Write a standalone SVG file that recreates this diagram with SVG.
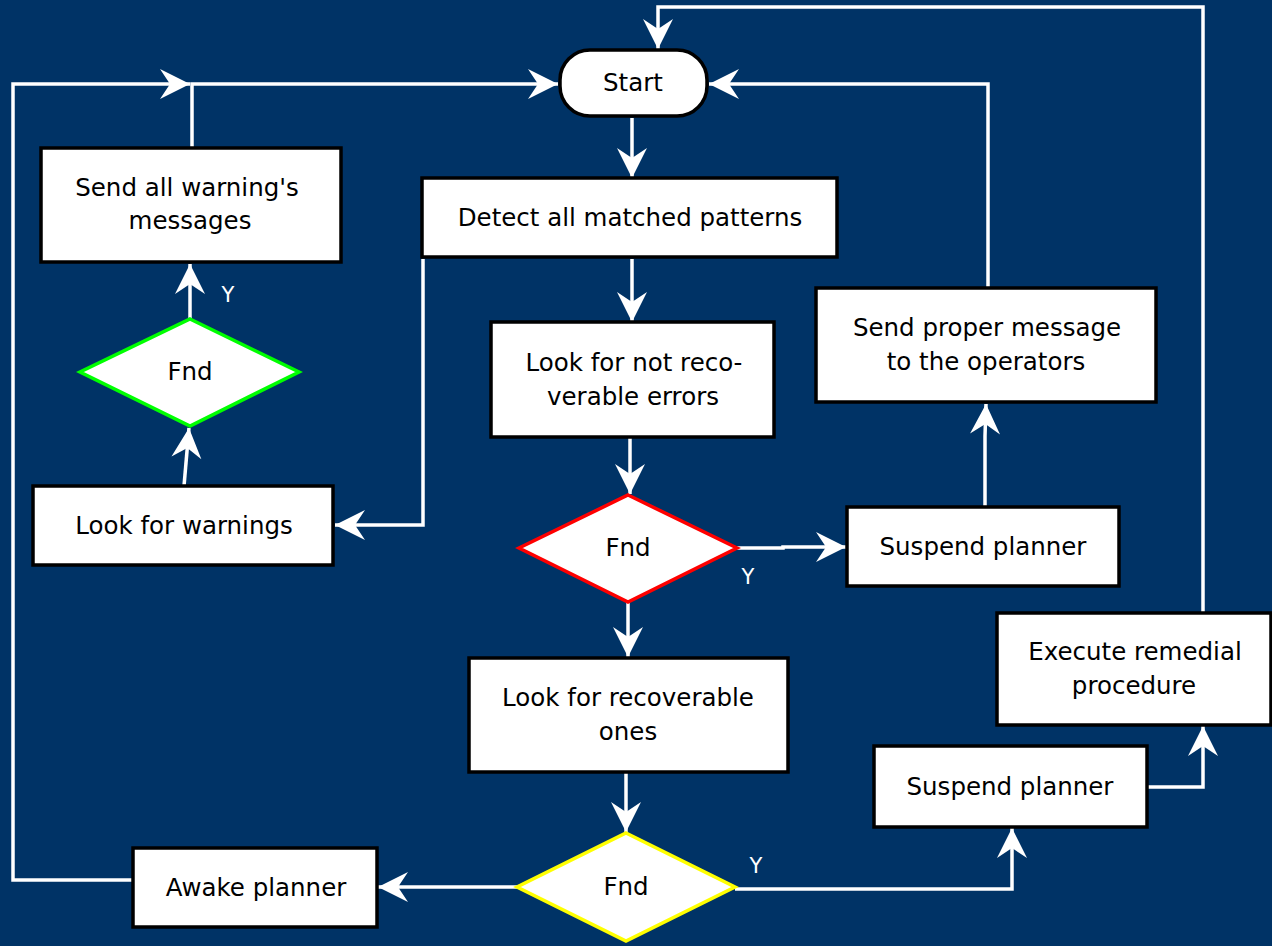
<svg xmlns="http://www.w3.org/2000/svg" width="1272" height="946" viewBox="0 0 1272 946">
<defs>
<marker id="arr" markerUnits="userSpaceOnUse" markerWidth="40" markerHeight="40" refX="0" refY="0" orient="auto" overflow="visible">
<path d="M0,0 L-30,-15 L-20,0 L-30,15 Z" fill="#ffffff"/>
</marker>
<style>
.box{fill:#ffffff;stroke:#000000;stroke-width:3.5}
.t{font-family:"DejaVu Sans",Verdana,sans-serif;font-size:24.5px;fill:#000000;text-anchor:middle}
.c{fill:none;stroke:#ffffff;stroke-width:3.5}
.ca{fill:none;stroke:#ffffff;stroke-width:3.5;marker-end:url(#arr)}
.y{font-family:"DejaVu Sans",Verdana,sans-serif;font-size:21px;fill:#ffffff;text-anchor:middle}
</style>
</defs>
<rect x="0" y="0" width="1272" height="946" fill="#003366"/>
<g id="connectors">
<path class="ca" d="M632,118 V178"/>
<path class="ca" d="M632,259 V322"/>
<path class="ca" d="M423,259 V525 H335"/>
<path class="ca" d="M184,486 L189,428"/>
<path class="ca" d="M190,319 V264"/>
<path class="ca" d="M133,880 H13 V84 H190"/>
<path class="ca" d="M192,148 V84 H558"/>
<path class="ca" d="M630,437 V494"/>
<path class="ca" d="M737,548 H783 V547 H846"/>
<path class="ca" d="M628,602 V657"/>
<path class="ca" d="M985,507 V436 L986,404"/>
<path class="ca" d="M988,288 V84 H709"/>
<path class="ca" d="M626,772 V832"/>
<path class="ca" d="M517,887 H378"/>
<path class="ca" d="M735,889 H1012 V828"/>
<path class="ca" d="M1147,787 H1203 V726"/>
<path class="ca" d="M1203,613 V7 H658 V49"/>
<text class="y" x="228" y="302">Y</text>
<text class="y" x="748" y="584">Y</text>
<text class="y" x="756" y="873">Y</text>
</g>
<g id="start">
<rect class="box" x="560" y="50" width="147" height="66" rx="30" ry="30"/>
<text class="t" x="633" y="91">Start</text>
</g>
<g id="detect">
<rect class="box" x="422" y="178" width="415" height="79"/>
<text class="t" x="630" y="226">Detect all matched patterns</text>
</g>
<g id="notrecov">
<rect class="box" x="491" y="322" width="283" height="115"/>
<text class="t" x="634" y="371">Look for not reco-</text>
<text class="t" x="633" y="405">verable errors</text>
</g>
<g id="fnd-red">
<polygon points="628,495 737,548 628,602 519,548" fill="#ffffff" stroke="#ff0000" stroke-width="3.5"/>
<text class="t" x="628" y="556">Fnd</text>
</g>
<g id="recov">
<rect class="box" x="469" y="658" width="319" height="114"/>
<text class="t" x="628" y="706">Look for recoverable</text>
<text class="t" x="628" y="740">ones</text>
</g>
<g id="fnd-yellow">
<polygon points="626,833 735,887 626,941 517,887" fill="#ffffff" stroke="#ffff00" stroke-width="3.5"/>
<text class="t" x="626" y="895">Fnd</text>
</g>
<g id="awake">
<rect class="box" x="133" y="848" width="244" height="79"/>
<text class="t" x="256" y="896">Awake planner</text>
</g>
<g id="sendwarn">
<rect class="box" x="41" y="148" width="300" height="114"/>
<text class="t" x="187" y="196">Send all warning's</text>
<text class="t" x="190" y="229">messages</text>
</g>
<g id="fnd-green">
<polygon points="190,319 299,372 190,426 80,372" fill="#ffffff" stroke="#00ff00" stroke-width="3.5"/>
<text class="t" x="190" y="380">Fnd</text>
</g>
<g id="lookwarn">
<rect class="box" x="33" y="486" width="300" height="79"/>
<text class="t" x="184" y="534">Look for warnings</text>
</g>
<g id="sendproper">
<rect class="box" x="816" y="288" width="340" height="114"/>
<text class="t" x="987" y="336">Send proper message</text>
<text class="t" x="986" y="370">to the operators</text>
</g>
<g id="suspend1">
<rect class="box" x="847" y="507" width="272" height="79"/>
<text class="t" x="983" y="555">Suspend planner</text>
</g>
<g id="execute">
<rect class="box" x="997" y="613" width="274" height="112"/>
<text class="t" x="1135" y="660">Execute remedial</text>
<text class="t" x="1134" y="694">procedure</text>
</g>
<g id="suspend2">
<rect class="box" x="874" y="746" width="273" height="81"/>
<text class="t" x="1010" y="795">Suspend planner</text>
</g>
</svg>
